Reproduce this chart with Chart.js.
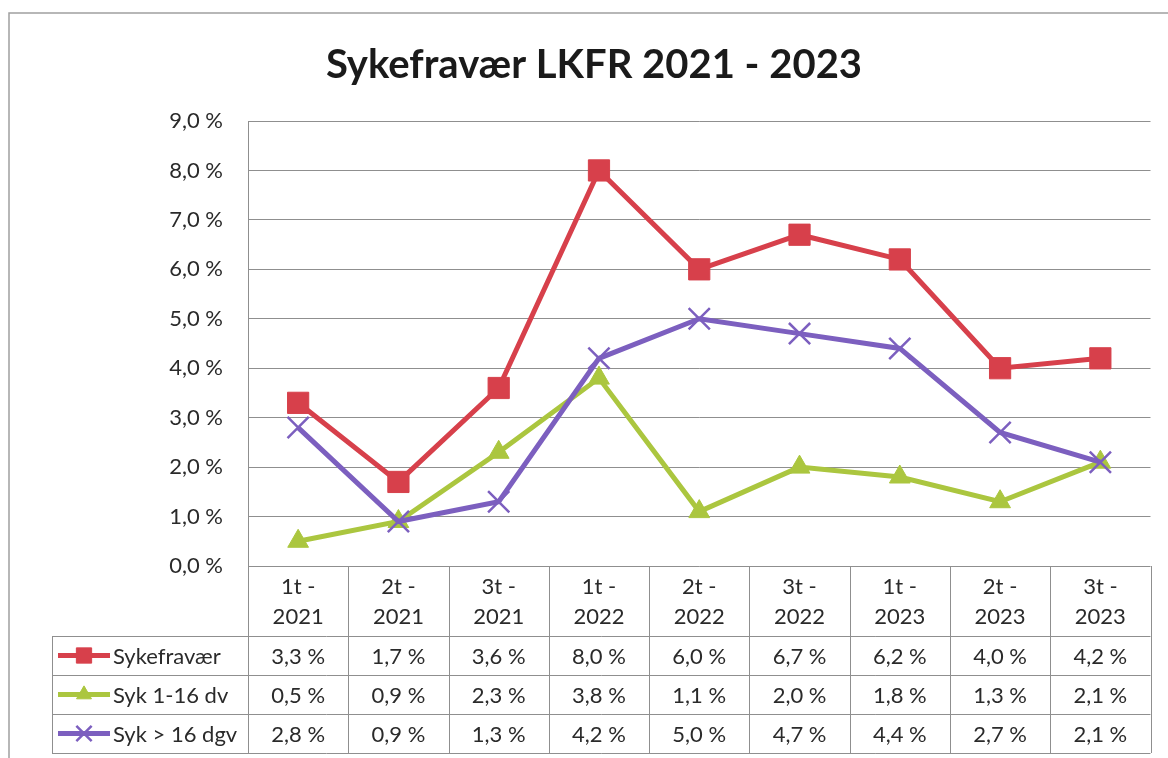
<!DOCTYPE html>
<html>
<head>
<meta charset="utf-8">
<script src="https://cdn.jsdelivr.net/npm/chart.js@4.4.1/dist/chart.umd.min.js"></script>
<style>
  html, body { margin: 0; padding: 0; background: #fff; }
  canvas { display: block; }
</style>
</head>
<body>
<canvas id="chart" width="1168" height="758"></canvas>
<script>
// periods (tertial - year)
const categories = [
  ['1t -', '2021'], ['2t -', '2021'], ['3t -', '2021'],
  ['1t -', '2022'], ['2t -', '2022'], ['3t -', '2022'],
  ['1t -', '2023'], ['2t -', '2023'], ['3t -', '2023'],
];
const sykefravaer = [3.3, 1.7, 3.6, 8.0, 6.0, 6.7, 6.2, 4.0, 4.2];
const syk1til16 = [0.5, 0.9, 2.3, 3.8, 1.1, 2.0, 1.8, 1.3, 2.1];
const sykOver16 = [2.8, 0.9, 1.3, 4.2, 5.0, 4.7, 4.4, 2.7, 2.1];
const seriesNames = ['Sykefravær', 'Syk 1-16 dv', 'Syk > 16 dgv'];

const FONT = 'Lato, "Open Sans", sans-serif';
const TEXT = '#2a2a2a';
const GRID = '#8f8f8f';

const pct = v => v.toFixed(1).replace('.', ',') + ' %';

const createDataset = (label, data, color, style, radius, order) => ({
  label: label,
  data: data,
  order: order,
  borderColor: color,
  backgroundColor: color,
  borderWidth: 5,
  pointStyle: style,
  pointRadius: radius,
  pointHoverRadius: radius,
  pointBackgroundColor: color,
  pointBorderColor: color,
  pointBorderWidth: style === 'crossRot' ? 2.5 : 1,
  tension: 0,
});

// table under the plot, columns follow the x scale
const dataTable = {
  id: 'dataTable',
  beforeDraw(chart) {
    const ctx = chart.ctx;
    ctx.save();
    ctx.strokeStyle = '#a0a0a0';
    ctx.lineWidth = 1.5;
    ctx.beginPath();
    ctx.moveTo(9, 760);
    ctx.lineTo(9, 13);
    ctx.lineTo(1170, 13);
    ctx.stroke();
    ctx.restore();
  },
  afterDraw(chart) {
    const {ctx, chartArea: area, scales: {x}} = chart;
    const n = chart.data.labels.length;
    const step = area.width / n;
    const headerH = 70, rowH = 39, keyLeft = 52;
    const top = area.bottom;
    const rowsTop = top + headerH;
    const bottom = rowsTop + rowH * chart.data.datasets.length;

    ctx.save();
    ctx.strokeStyle = GRID;
    ctx.lineWidth = 1;
    ctx.beginPath();
    for (let i = 0; i <= n; i++) {
      const xx = Math.round(area.left + i * step) + 0.5;
      ctx.moveTo(xx, top);
      ctx.lineTo(xx, bottom);
    }
    for (let r = 0; r <= chart.data.datasets.length; r++) {
      const yy = Math.round(rowsTop + r * rowH) + 0.5;
      ctx.moveTo(keyLeft, yy);
      ctx.lineTo(area.right, yy);
    }
    ctx.moveTo(keyLeft + 0.5, rowsTop);
    ctx.lineTo(keyLeft + 0.5, bottom);
    ctx.stroke();

    ctx.fillStyle = TEXT;
    ctx.font = '22px ' + FONT;
    ctx.textAlign = 'center';
    ctx.textBaseline = 'middle';
    chart.data.labels.forEach((lab, i) => {
      const cx = x.getPixelForValue(i);
      ctx.fillText(lab[0], cx, top + 21);
      ctx.fillText(lab[1], cx, top + 51);
    });

    chart.data.datasets.forEach((ds, r) => {
      const cy = rowsTop + r * rowH + rowH / 2;
      ds.data.forEach((v, i) => {
        ctx.fillText(pct(v), x.getPixelForValue(i), cy + 1);
      });
      // legend key
      ctx.strokeStyle = ds.borderColor;
      ctx.lineWidth = 5;
      ctx.beginPath();
      ctx.moveTo(58, cy);
      ctx.lineTo(110, cy);
      ctx.stroke();
      ctx.fillStyle = ds.borderColor;
      ctx.lineWidth = ds.pointBorderWidth;
      Chart.helpers.drawPoint(ctx, {
        pointStyle: ds.pointStyle,
        radius: ds.pointRadius * 0.72,
        borderWidth: ds.pointBorderWidth,
        rotation: 0,
      }, 84, cy);
      ctx.fillStyle = TEXT;
      ctx.textAlign = 'left';
      ctx.fillText(seriesNames[r], 113, cy + 1);
      ctx.textAlign = 'center';
    });
    ctx.restore();
  }
};

const chart = new Chart(document.getElementById('chart'), {
  type: 'line',
  data: {
    labels: categories,
    datasets: [
      createDataset(seriesNames[0], sykefravaer, '#d7404b', 'rect', 15, 3),
      createDataset(seriesNames[1], syk1til16, '#abc63f', 'triangle', 12, 2),
      createDataset(seriesNames[2], sykOver16, '#7c5fbf', 'crossRot', 15, 1),
    ]
  },
  options: {
    responsive: false,
    animation: false,
    layout: {padding: {top: 0, left: 34, right: 14, bottom: 192}},
    scales: {
      x: {
        display: false,
        offset: true,
      },
      y: {
        min: 0,
        max: 9,
        ticks: {
          stepSize: 1,
          padding: 25,
          color: TEXT,
          font: {family: FONT, size: 22},
          callback: v => pct(v),
        },
        grid: {color: GRID, lineWidth: 1, drawTicks: false},
        border: {color: GRID, width: 1},
        afterFit(scale) {
          scale.width = 214;
          scale.paddingTop = 0;
          scale.paddingBottom = 0;
        },
      },
    },
    plugins: {
      legend: {display: false},
      tooltip: {enabled: false},
      title: {
        display: true,
        text: 'Sykefravær LKFR 2021 - 2023',
        color: '#1a1a1a',
        font: {family: FONT, size: 40, weight: 'bold'},
        padding: {top: 41, bottom: 32},
      },
    },
  },
  plugins: [dataTable],
});
</script>
</body>
</html>
